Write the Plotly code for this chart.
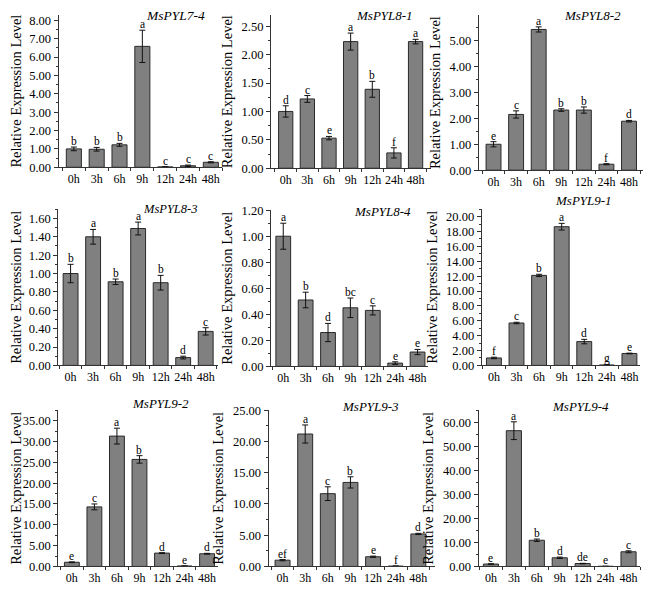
import plotly.graph_objects as go

times = ["0h", "3h", "6h", "9h", "12h", "24h", "48h"]

genes = ["MsPYL7-4", "MsPYL8-1", "MsPYL8-2",
         "MsPYL8-3", "MsPYL8-4", "MsPYL9-1",
         "MsPYL9-2", "MsPYL9-3", "MsPYL9-4"]

pyl7_4 = [1.00, 0.98, 1.22, 6.58, 0.02, 0.08, 0.27]
pyl7_4_err = [0.10, 0.10, 0.08, 0.88, 0.01, 0.04, 0.03]
pyl7_4_sig = ["b", "b", "b", "a", "c", "c", "c"]

pyl8_1 = [1.00, 1.22, 0.53, 2.23, 1.39, 0.27, 2.23]
pyl8_1_err = [0.10, 0.06, 0.03, 0.15, 0.14, 0.09, 0.04]
pyl8_1_sig = ["d", "c", "e", "a", "b", "f", "a"]

pyl8_2 = [1.00, 2.15, 5.43, 2.32, 2.32, 0.23, 1.89]
pyl8_2_err = [0.10, 0.14, 0.10, 0.05, 0.12, 0.02, 0.03]
pyl8_2_sig = ["e", "c", "a", "b", "b", "f", "d"]

pyl8_3 = [1.00, 1.40, 0.91, 1.49, 0.90, 0.085, 0.37]
pyl8_3_err = [0.10, 0.08, 0.03, 0.07, 0.08, 0.015, 0.04]
pyl8_3_sig = ["b", "a", "b", "a", "b", "d", "c"]

pyl8_4 = [1.00, 0.51, 0.26, 0.45, 0.43, 0.025, 0.11]
pyl8_4_err = [0.10, 0.06, 0.07, 0.075, 0.035, 0.01, 0.02]
pyl8_4_sig = ["a", "b", "d", "bc", "c", "e", "e"]

pyl9_1 = [1.00, 5.70, 12.10, 18.65, 3.20, 0.05, 1.60]
pyl9_1_err = [0.10, 0.10, 0.15, 0.45, 0.30, 0.02, 0.05]
pyl9_1_sig = ["f", "c", "b", "a", "d", "g", "e"]

pyl9_2 = [1.00, 14.30, 31.30, 25.70, 3.20, 0.10, 3.05]
pyl9_2_err = [0.10, 0.70, 1.90, 0.90, 0.10, 0.02, 0.10]
pyl9_2_sig = ["e", "c", "a", "b", "d", "e", "d"]

pyl9_3 = [1.00, 21.20, 11.65, 13.45, 1.55, 0.05, 5.20]
pyl9_3_err = [0.10, 1.45, 1.10, 0.90, 0.10, 0.02, 0.10]
pyl9_3_sig = ["ef", "a", "c", "b", "e", "f", "d"]

pyl9_4 = [1.00, 56.50, 10.90, 3.60, 1.20, 0.05, 6.10]
pyl9_4_err = [0.10, 3.70, 0.50, 0.30, 0.10, 0.02, 0.40]
pyl9_4_sig = ["e", "a", "b", "d", "de", "e", "c"]

series = [(pyl7_4, pyl7_4_err, pyl7_4_sig), (pyl8_1, pyl8_1_err, pyl8_1_sig),
          (pyl8_2, pyl8_2_err, pyl8_2_sig), (pyl8_3, pyl8_3_err, pyl8_3_sig),
          (pyl8_4, pyl8_4_err, pyl8_4_sig), (pyl9_1, pyl9_1_err, pyl9_1_sig),
          (pyl9_2, pyl9_2_err, pyl9_2_sig), (pyl9_3, pyl9_3_err, pyl9_3_sig),
          (pyl9_4, pyl9_4_err, pyl9_4_sig)]

# page body has an 8px margin, so the figure is 16px smaller than the window
OFF = 8
W, H = 658 - 2 * OFF, 599 - 2 * OFF
# page pixels: first/last bar centre x, left/right pad (categories), ytop, ybottom, ymax, dtick
boxes = [(67.5, 206.0, 0.67, 0.50, 4, 164, 8.5, 1),
         (281.7, 413.0, 0.68, 0.70, 5, 165, 2.75, 0.5),
         (491.8, 628.8, 0.65, 0.60, 5, 167, 6.1, 1),
         (64.2, 200.8, 0.55, 0.53, 207, 367, 1.7, 0.2),
         (279.2, 415.0, 0.55, 0.45, 208, 368, 1.2, 0.2),
         (492.2, 629.2, 0.54, 0.47, 207, 367, 21, 2),
         (65.5, 202.2, 0.60, 0.50, 413, 573, 37.5, 5),
         (278.5, 415.8, 0.62, 0.75, 413, 573, 25, 5),
         (489.2, 628.3, 0.54, 0.50, 413, 573, 65, 10)]
# title centre (page px) and size
title_pos = [(170, 8, 13.5), (382, 9, 13), (592, 9, 13), (165, 207, 12.5), (380, 209, 13),
             (583, 198, 13), (155, 406, 13), (367, 409, 13), (580, 409, 13)]


def px(x):
    return min(1.0, max(0.0, (x - OFF) / W))


def py(y):
    return min(1.0, max(0.0, 1 - (y - OFF) / H))


FONT = "Liberation Serif, Times New Roman, serif"
fig = go.Figure()
annotations = []
layout = {}
for i, ((vals, errs, sig), box, tp) in enumerate(zip(series, boxes, title_pos)):
    n = i + 1
    xa = "x" if n == 1 else f"x{n}"
    ya = "y" if n == 1 else f"y{n}"
    c0, c6, lp, rp, yt, yb, ymax, dt = box
    sp = (c6 - c0) / 6
    x0, x1 = c0 - lp * sp, c6 + rp * sp
    if yt < OFF:
        # keep the same pixel scale when the top is clipped by the page margin
        ymax = ymax * (yb - OFF) / (yb - yt)
        yt = OFF
    fig.add_trace(go.Bar(
        x=times, y=vals, xaxis=xa, yaxis=ya, width=0.66,
        marker=dict(color="#808080", line=dict(color="#2a2a2a", width=1)),
        error_y=dict(type="data", array=errs, visible=True, color="#111111",
                     thickness=1, width=3),
        showlegend=False))
    for t, v, e, s in zip(times, vals, errs, sig):
        annotations.append(dict(x=t, y=v + e, xref=xa, yref=ya, text=s, showarrow=False,
                                yanchor="bottom", yshift=-2,
                                font=dict(family=FONT, size=11.5, color="black")))
    annotations.append(dict(x=px(tp[0]), y=py(tp[1]), xref="paper", yref="paper",
                            text=f"<i>{genes[i]}</i>", showarrow=False,
                            xanchor="center", yanchor="middle",
                            font=dict(family=FONT, size=tp[2], color="black")))
    layout[f"xaxis{n}"] = dict(
        domain=[px(x0), px(x1)], anchor=ya, type="category",
        showline=True, linecolor="#333", linewidth=1, ticks="outside",
        tickson="boundaries", ticklen=3, tickcolor="#333", tickangle=0,
        tickfont=dict(family=FONT, size=12, color="black"), showgrid=False,
        range=[-lp, 6 + rp])
    layout[f"yaxis{n}"] = dict(
        domain=[py(yb), py(yt)], anchor=xa, range=[0, ymax],
        showline=True, linecolor="#333", linewidth=1, ticks="outside",
        ticklen=4, tickcolor="#333", dtick=dt, tick0=0, tickformat=".2f",
        minor=dict(dtick=dt / 2, ticks="outside", ticklen=2, tickcolor="#333"),
        tickfont=dict(family=FONT, size=12.5, color="black"), showgrid=False, zeroline=False,
        title=dict(text="Relative Expression Level", standoff=5,
                   font=dict(family=FONT, size=14.5, color="black")))

fig.update_layout(width=W, height=H, margin=dict(l=0, r=0, t=0, b=0),
                  paper_bgcolor="white", plot_bgcolor="white",
                  annotations=annotations, bargap=0.3, **layout)
fig.write_html("out.html")
